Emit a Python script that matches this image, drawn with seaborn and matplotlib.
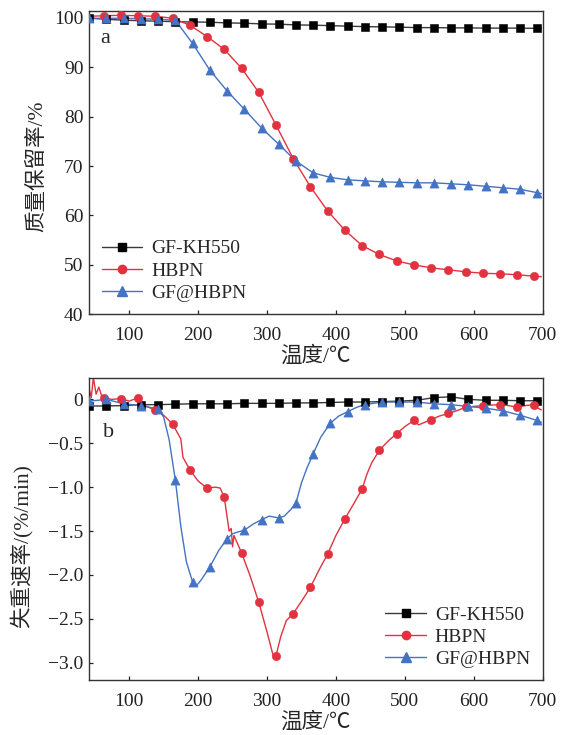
import numpy as np
import matplotlib
matplotlib.use("Agg")
import matplotlib.pyplot as plt
from matplotlib.lines import Line2D
import seaborn as sns

# ---------------- data ----------------
SERIES = ["GF-KH550", "HBPN", "GF@HBPN"]

# marker temperatures (°C)
MARK_T_KH = [42, 67, 92, 117, 142, 167, 192, 217, 242, 267, 292, 317, 342, 367,
             392, 417, 442, 467, 492, 517, 542, 567, 592, 617, 642, 667, 692]
MARK_T_HB = [63, 88, 113, 138, 163, 188, 213, 238, 263, 288, 313, 338, 363, 388,
             413, 438, 463, 488, 513, 538, 563, 588, 613, 638, 663, 688]
MARK_T_GF = MARK_T_KH

# (a) TG: mass retention (%)
tg_t_kh = [42, 67, 92, 117, 142, 167, 192, 217, 242, 267, 292, 317, 342, 367,
           392, 417, 442, 467, 492, 517, 542, 567, 592, 617, 642, 667, 692, 698]
tg_kh = [99.9, 99.7, 99.5, 99.4, 99.3, 99.2, 99.15, 99.1, 98.95, 98.9, 98.75, 98.7,
         98.55, 98.5, 98.4, 98.3, 98.2, 98.15, 98.1, 98.0, 98.0, 97.95, 97.95, 97.9,
         97.9, 97.9, 97.85, 97.85]

tg_t_hb = [42, 63, 88, 113, 138, 163, 188, 213, 238, 263, 288, 313, 338, 363, 388,
           413, 438, 463, 488, 513, 538, 563, 588, 613, 638, 663, 688, 698]
tg_hb = [100.3, 100.4, 100.5, 100.4, 100.3, 99.9, 98.5, 96.2, 93.6, 89.8, 84.9, 78.3,
         71.5, 65.8, 60.9, 57.0, 53.9, 52.1, 50.8, 50.0, 49.4, 49.0, 48.6, 48.3, 48.2,
         48.0, 47.7, 47.6]

tg_t_gf = tg_t_kh
tg_gf = [99.9, 99.9, 99.9, 99.8, 99.7, 99.5, 94.8, 89.4, 85.2, 81.5, 77.7, 74.4, 71.0,
         68.6, 67.7, 67.2, 67.0, 66.8, 66.7, 66.6, 66.6, 66.4, 66.2, 65.9, 65.6, 65.3,
         64.6, 64.4]

# (b) DTG: mass loss rate (%/min)
dtg_t_kh = tg_t_kh
dtg_kh = [-0.075, -0.075, -0.07, -0.06, -0.06, -0.055, -0.05, -0.05, -0.05, -0.045,
          -0.045, -0.045, -0.04, -0.04, -0.035, -0.03, -0.03, -0.025, -0.02, -0.01,
          0.02, 0.03, 0.0, -0.01, -0.01, -0.015, -0.015, -0.015]

dtg_t_hb = [42, 45, 48, 52, 56, 60, 63, 75, 88, 100, 113, 119, 125, 138, 150, 163,
            170, 175, 178, 188, 200, 213, 225, 232, 238, 245, 248, 250, 252, 263,
            275, 288, 300, 310, 313, 320, 328, 338, 350, 363, 375, 388, 400, 413,
            425, 438, 445, 452, 463, 475, 488, 500, 513, 520, 538, 550, 563, 575,
            588, 600, 613, 625, 638, 650, 663, 675, 688, 693, 698]
dtg_hb = [0.12, 0.02, 0.25, 0.06, 0.14, 0.04, 0.02, 0.0, 0.01, -0.02, 0.02, -0.06,
          -0.08, -0.12, -0.18, -0.28, -0.38, -0.45, -0.66, -0.80, -0.93, -1.01,
          -1.00, -1.01, -1.115, -1.50, -1.47, -1.68, -1.55, -1.746, -2.0, -2.31,
          -2.65, -2.95, -2.92, -2.70, -2.52, -2.44, -2.30, -2.14, -1.95, -1.76,
          -1.55, -1.36, -1.20, -1.02, -0.85, -0.72, -0.58, -0.48, -0.39, -0.31,
          -0.24, -0.29, -0.23, -0.19, -0.16, -0.13, -0.09, -0.08, -0.07, -0.065,
          -0.06, -0.07, -0.09, -0.07, -0.06, -0.10, -0.12]

dtg_t_gf = [42, 67, 92, 117, 142, 150, 158, 167, 175, 183, 192, 198, 205, 217, 230,
            242, 250, 258, 267, 280, 292, 303, 317, 325, 335, 342, 350, 358, 367,
            378, 392, 404, 417, 430, 442, 467, 492, 517, 542, 567, 592, 617, 642,
            667, 692, 698]
dtg_gf = [-0.02, 0.0, -0.05, -0.07, -0.11, -0.20, -0.46, -0.92, -1.45, -1.85, -2.08,
          -2.12, -2.05, -1.91, -1.72, -1.59, -1.53, -1.51, -1.49, -1.42, -1.37, -1.33,
          -1.35, -1.33, -1.25, -1.18, -0.95, -0.78, -0.62, -0.43, -0.27, -0.19, -0.14,
          -0.09, -0.06, -0.03, -0.03, -0.03, -0.05, -0.06, -0.08, -0.10, -0.13, -0.18,
          -0.24, -0.26]

X_TICKS = [100, 200, 300, 400, 500, 600, 700]
TG_TICKS = [40, 50, 60, 70, 80, 90, 100]
DTG_TICKS = [0, -0.5, -1.0, -1.5, -2.0, -2.5, -3.0]

# ---------------- style ----------------
sns.set_style("ticks", {"xtick.direction": "in", "ytick.direction": "in"})
plt.rcParams["font.family"] = ["Liberation Serif", "Noto Sans CJK SC"]
plt.rcParams["axes.unicode_minus"] = True

COLORS = {"GF-KH550": "#000000", "HBPN": "#E2323F", "GF@HBPN": "#4472C4"}
MARKERS = {"GF-KH550": "s", "HBPN": "o", "GF@HBPN": "^"}
MSIZE = {"GF-KH550": 5.2, "HBPN": 6.0, "GF@HBPN": 6.6}
LINE_COLORS = {"GF-KH550": "#3a3a3a", "HBPN": "#E2323F", "GF@HBPN": "#4472C4"}

TICK_FS = 14
LABEL_FS = 15.5

fig = plt.figure(figsize=(5.69, 7.35), dpi=100)
ax_a = fig.add_axes([0.1564, 0.5724, 0.7974, 0.4122])
ax_b = fig.add_axes([0.1564, 0.0744, 0.7974, 0.4117])


def draw_series(ax, name, t, v, mark_t):
    color = COLORS[name]
    sns.lineplot(x=t, y=v, ax=ax, color=LINE_COLORS[name], linewidth=1.0,
                 estimator=None, sort=False, legend=False)
    t_arr = np.asarray(t)
    v_arr = np.asarray(v)
    sel = np.isin(t_arr, mark_t)
    sns.scatterplot(x=t_arr[sel], y=v_arr[sel], ax=ax, color=color,
                    marker=MARKERS[name], s=MSIZE[name] ** 2, edgecolor=color,
                    linewidth=0.4, legend=False, zorder=3)


def legend_handles():
    return [Line2D([], [], color=LINE_COLORS[n], linewidth=1.0, marker=MARKERS[n],
                   markersize=MSIZE[n], markerfacecolor=COLORS[n],
                   markeredgecolor=COLORS[n]) for n in SERIES]


def style_axes(ax, yticks, ylim, ylabel, ylabel_xy, letter, letter_xy, legend_loc):
    ax.set_xlim(41.7, 698.4)
    ax.set_ylim(*ylim)
    ax.set_xticks(X_TICKS)
    ax.set_yticks(yticks)
    ax.tick_params(axis="both", direction="in", length=3.2, width=0.9,
                   labelsize=TICK_FS, colors="#222222", pad=4)
    ax.tick_params(axis="x", pad=9)
    for sp in ax.spines.values():
        sp.set_visible(True)
        sp.set_color("#333333")
        sp.set_linewidth(1.0)
    ax.set_xlabel("温度/℃", fontsize=LABEL_FS, labelpad=2)
    ax.set_ylabel(ylabel, fontsize=LABEL_FS)
    ax.yaxis.set_label_coords(*ylabel_xy)
    ax.text(letter_xy[0], letter_xy[1], letter, transform=ax.transAxes,
            fontsize=16, ha="center", va="center")
    ax.legend(handles=legend_handles(), labels=SERIES, loc=legend_loc,
              frameon=False, fontsize=TICK_FS, handlelength=2.1,
              handletextpad=0.45, labelspacing=0.23, borderaxespad=0.25,
              borderpad=0.4)


# (a) TG curves
draw_series(ax_a, "GF-KH550", tg_t_kh, tg_kh, MARK_T_KH)
draw_series(ax_a, "HBPN", tg_t_hb, tg_hb, MARK_T_HB)
draw_series(ax_a, "GF@HBPN", tg_t_gf, tg_gf, MARK_T_GF)
style_axes(ax_a, TG_TICKS, (40, 101.3), "质量保留率/%", (-0.092, 0.489),
           "a", (0.035, 0.91), "lower left")
ax_a.set_yticklabels([str(t) for t in TG_TICKS])

# (b) DTG curves
draw_series(ax_b, "GF-KH550", dtg_t_kh, dtg_kh, MARK_T_KH)
draw_series(ax_b, "HBPN", dtg_t_hb, dtg_hb, MARK_T_HB)
draw_series(ax_b, "GF@HBPN", dtg_t_gf, dtg_gf, MARK_T_GF)
style_axes(ax_b, DTG_TICKS, (-3.2, 0.247), "失重速率/(%/min)", (-0.124, 0.444),
           "b", (0.043, 0.82), "lower right")
ax_b.set_yticklabels(["0" if t == 0 else f"{t:.1f}".replace("-", "\u2212")
                      for t in DTG_TICKS])

fig.savefig("out.png", dpi=100)
